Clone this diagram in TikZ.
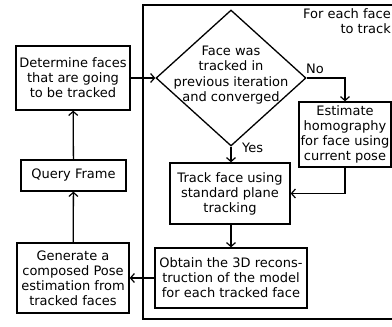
\documentclass[tikz,border=0pt]{standalone}
\usepackage{fontspec}
\setmainfont{DejaVu Sans}
\usetikzlibrary{arrows.meta, positioning, shapes.geometric}
\tikzset{
  >={Straight Barb[length=4pt, width=9pt, line width=1.2pt]},
  box/.style={draw, line width=1.3pt, align=center, inner sep=0pt,
    font=\fontsize{13}{15}\selectfont},
  decision/.style={draw, diamond, line width=1.3pt, inner sep=0pt,
    minimum width=150pt, minimum height=136pt},
  flow/.style={->, line width=1.3pt},
  tag/.style={font=\fontsize{13}{15.5}\selectfont, inner sep=0pt},
}
\begin{document}
\begin{tikzpicture}[x=1pt, y=-1pt]
  \clip (0,0) rectangle (392,327);
  \fill[white] (0,0) rectangle (392,327);

  % loop frame
  \draw[line width=1.4pt] (400,5) -- (143,5) -- (143,319) -- (400,319);
  \node[tag, align=right, anchor=north east] (each) at (391,8)
    {For each face\\to track};

  % left column
  \node[box, minimum width=114pt, minimum height=64pt] (det) at (73,78)
    {Determine faces\\that are going\\to be tracked};
  \node[box, minimum width=105pt, minimum height=31pt] (query) at (73.5,175.5)
    {Query Frame};
  \node[box, minimum width=112pt, minimum height=70pt] (gen) at (73,278)
    {Generate a\\composed Pose\\estimation from\\tracked faces};

  % per-face steps
  \node[decision] (conv) at (231,78) {};
  \node[tag, align=center] (convtext) at (231,75)
    {Face was\\tracked in\\previous iteration\\and converged};
  \node[box, minimum width=92pt, minimum height=65pt] (homo) at (345,134.5)
    {Estimate\\homography\\for face using\\current pose};
  \node[box, minimum width=120pt, minimum height=61pt] (track) at (230,193.5)
    {Track face using\\standard plane\\tracking};
  \node[box, minimum width=152pt, minimum height=60pt] (recon) at (231,278)
    {Obtain the 3D recons-\\truction of the model\\for each tracked face};

  \node[tag, anchor=south west] (no) at (306,74) {No};
  \node[tag, anchor=west] (yes) at (242,148) {Yes};

  \draw[flow] (det) -- (conv.west);
  \draw[flow] (conv.east) -| (homo.north);
  \draw[flow] (conv.south) -- (track.north -| conv.south);
  \draw[flow] (homo.south) |- (track.east);
  \draw[flow] (track.south -| conv.south) -- (recon.north);
  \draw[flow] (recon) -- (gen);
  \draw[flow] (gen) -- (query);
  \draw[flow] (query) -- (det);
\end{tikzpicture}
\end{document}
